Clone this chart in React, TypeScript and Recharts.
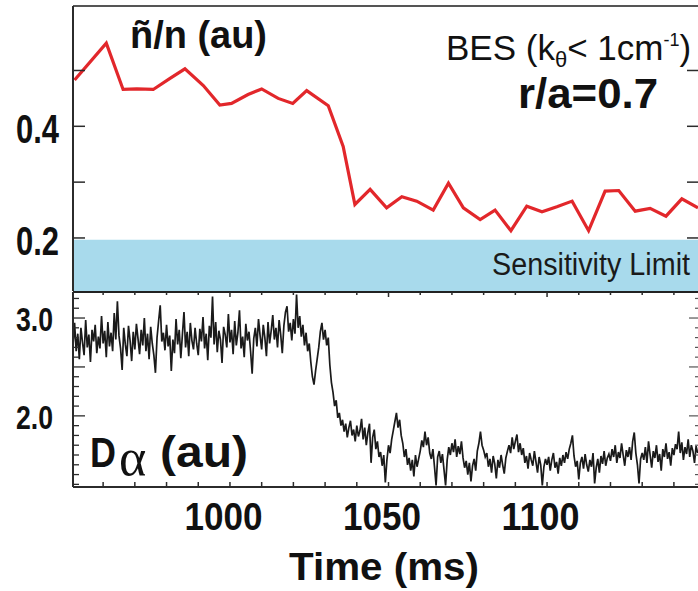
import { LineChart, Line, XAxis, YAxis, ReferenceArea, ReferenceLine } from "recharts";

// BES density fluctuation level, ñ/n (au), sampled ~every 5 ms
const NTILDE_T = [
  951, 961, 966.3, 970.6, 975.8, 981.1, 985.8, 991.6, 996.8, 1000.5,
  1005.7, 1010, 1015.2, 1019.8, 1024.2, 1031, 1035.7, 1039.4, 1044.2, 1049.4,
  1054.2, 1058.9, 1064.1, 1068.9, 1073.6, 1078.9, 1083.6, 1088.6, 1093.6, 1098.4,
  1103.1, 1107.9, 1113.1, 1118.3, 1122.6, 1127.8, 1132.5, 1137.5, 1142.5, 1147.6,
];
const NTILDE = [
  0.483, 0.549, 0.466, 0.467, 0.466, 0.486, 0.503, 0.473, 0.438, 0.441,
  0.457, 0.467, 0.45, 0.441, 0.464, 0.437, 0.364, 0.26, 0.287, 0.254,
  0.274, 0.266, 0.25, 0.298, 0.254, 0.233, 0.25, 0.213, 0.257, 0.247,
  0.256, 0.266, 0.213, 0.284, 0.285, 0.248, 0.253, 0.239, 0.27, 0.254,
];

// D-alpha trace (au), one value every 0.5 ms starting at 950 ms
const DALPHA_T0 = 950;
const DALPHA_STEP = 0.5;
const DALPHA = [
  // 950
  2.8, 2.72, 2.95, 2.66, 2.84, 2.58, 2.9, 2.75, 2.62, 2.98, 2.7, 2.83, 2.55, 2.88, 2.76, 2.93, 2.64, 2.81, 2.69, 3.02,
  // 960
  2.74, 2.87, 2.6, 2.96, 2.71, 2.85, 2.66, 3.05, 2.78, 3.17, 2.82, 2.69, 2.47, 2.9, 2.73, 2.61, 2.92, 2.77, 2.56, 2.86,
  // 970
  2.68, 2.94, 2.79, 2.63, 2.88, 2.72, 3.0, 2.66, 2.84, 2.58, 2.91, 2.74, 2.62, 2.44, 2.8, 2.97, 3.13, 2.76, 2.85, 2.67,
  // 980
  2.93, 2.71, 2.82, 2.46, 2.78, 2.64, 2.99, 2.73, 2.88, 2.59, 2.83, 3.06, 2.7, 2.86, 2.61, 2.95, 2.77, 2.68, 2.9, 2.74,
  // 990
  2.62, 2.89, 2.76, 3.01, 2.69, 2.84, 2.57, 2.92, 2.8, 3.22, 2.73, 2.96, 2.65, 2.87, 2.78, 2.54, 2.91, 2.83, 2.7, 3.04,
  // 1000
  2.75, 2.88, 2.63, 2.97, 2.72, 2.85, 3.08, 2.69, 2.81, 2.6, 2.94, 2.77, 2.86, 2.66, 2.43, 2.79, 2.9, 2.71, 2.99, 2.82,
  // 1010
  2.68, 2.93, 2.8, 2.61, 2.96, 2.74, 2.87, 3.03, 2.78, 2.9, 2.7, 2.98, 2.83, 2.64, 2.92, 3.06, 3.12, 2.86, 2.95, 2.77,
  // 1020
  2.99, 2.84, 3.24, 2.9, 3.02, 2.81, 2.93, 2.72, 2.85, 2.66, 2.74, 2.55, 2.4, 2.32, 2.46, 2.58, 2.7, 2.86, 2.95, 2.78,
  // 1030
  2.88, 2.72, 2.8, 2.52, 2.34, 2.24, 2.1, 2.16, 1.98, 2.03, 1.9, 1.96, 1.84, 1.92, 1.78, 1.88, 1.95, 1.8, 1.86, 1.74,
  // 1040
  1.9, 1.79, 1.85, 1.97, 1.76, 1.88, 1.7, 1.83, 1.92, 1.52, 1.78, 1.86, 1.66, 1.74, 1.58, 1.63, 1.49, 1.6, 1.32, 1.55,
  // 1050
  1.7, 1.62, 1.76, 1.85, 1.94, 2.03, 1.88, 1.96, 1.8, 1.72, 1.58, 1.66, 1.5, 1.57, 1.44, 1.55, 1.38, 1.6, 1.48, 1.56,
  // 1060
  1.64, 1.75, 1.68, 1.84, 1.7, 1.78, 1.62, 1.56, 1.66, 1.48, 1.29, 1.58, 1.64, 1.52, 1.61, 1.45, 1.29, 1.55, 1.68, 1.6,
  // 1070
  1.72, 1.63, 1.76, 1.58, 1.69, 1.61, 1.74, 1.57, 1.47, 1.54, 1.4, 1.52, 1.33, 1.49, 1.56, 1.44, 1.64, 1.72, 1.84, 1.7,
  // 1080
  1.65, 1.58, 1.62, 1.48, 1.56, 1.42, 1.59, 1.51, 1.36, 1.55, 1.47, 1.6, 1.5, 1.41, 1.57, 1.64, 1.7, 1.62, 1.78, 1.66,
  // 1090
  1.74, 1.81, 1.63, 1.72, 1.6, 1.67, 1.52, 1.59, 1.46, 1.62, 1.55, 1.49, 1.64, 1.53, 1.42, 1.58, 1.5, 1.29, 1.48, 1.56,
  // 1100
  1.5, 1.58, 1.44, 1.55, 1.62, 1.47, 1.53, 1.41, 1.57, 1.49, 1.6, 1.52, 1.63, 1.56, 1.66, 1.72, 1.8, 1.59, 1.48, 1.54,
  // 1110
  1.35, 1.52, 1.58, 1.46, 1.61, 1.5, 1.43, 1.55, 1.48, 1.62, 1.31, 1.47, 1.56, 1.42, 1.59, 1.51, 1.64, 1.49, 1.57, 1.61,
  // 1120
  1.54, 1.66, 1.58, 1.7, 1.52, 1.63, 1.57, 1.72, 1.6, 1.49, 1.65, 1.58, 1.68, 1.55, 1.74, 1.83, 1.62, 1.5, 1.31, 1.56,
  // 1130
  1.62, 1.55, 1.68, 1.52, 1.74, 1.6, 1.47, 1.64, 1.57, 1.7, 1.53, 1.61, 1.44, 1.66, 1.58, 1.72, 1.56, 1.63, 1.49, 1.67,
  // 1140
  1.6, 1.71, 1.66, 1.84, 1.62, 1.73, 1.55, 1.68, 1.61, 1.76, 1.58, 1.7, 1.64, 1.52, 1.69, 1.62,
];

const X_DOMAIN = [950.5, 1147.6];
const X_TICKS = [960, 970, 980, 990, 1000, 1010, 1020, 1030, 1040, 1050, 1060, 1070, 1080, 1090, 1100, 1110, 1120, 1130, 1140];
const X_LABELS = [1000, 1050, 1100];

const TOP_DOMAIN = [0.105, 0.6155];
const TOP_TICKS = [0.2, 0.3, 0.4, 0.5];
const TOP_LABELS = [0.2, 0.4];
const SENSITIVITY_LIMIT = 0.197;

const BOT_DOMAIN = [1.273, 3.266];
const BOT_TICKS = [1.3, 1.4, 1.5, 1.6, 1.7, 1.8, 1.9, 2.0, 2.1, 2.2, 2.3, 2.4, 2.5, 2.6, 2.7, 2.8, 2.9, 3.0, 3.1, 3.2];
const BOT_MAJOR = [2.0, 2.5, 3.0];
const BOT_LABELS = [2.0, 3.0];

const W = 698;
const FONT = "'Liberation Sans', Arial, Helvetica, sans-serif";
const AXIS = "#2b2b2b";

const topData = NTILDE_T.map((t, i) => ({ t, v: NTILDE[i] }));
const botData = DALPHA.map((v, i) => ({ t: DALPHA_T0 + i * DALPHA_STEP, v }));

const near = (list: number[], v: number) => list.some((x) => Math.abs(x - v) < 1e-6);

function TopYTick(props: any) {
  const { x, y, payload } = props;
  const v = payload.value;
  return (
    <g>
      <line x1={x} x2={x + 12} y1={y} y2={y} stroke={AXIS} strokeWidth={1.5} />
      <line x1={W} x2={W - 11} y1={y} y2={y} stroke={AXIS} strokeWidth={1.5} />
      {near(TOP_LABELS, v) && (
        <text x={59} y={y + 17} textAnchor="end" fontFamily={FONT} fontWeight="bold" fontSize={40}
          fill="#111" textLength={43} lengthAdjust="spacingAndGlyphs">
          {v.toFixed(1)}
        </text>
      )}
    </g>
  );
}

function BotYTick(props: any) {
  const { x, y, payload } = props;
  const v = payload.value;
  const major = near(BOT_MAJOR, v);
  return (
    <g>
      <line x1={x} x2={x + (major ? 12 : 6)} y1={y} y2={y} stroke={AXIS} strokeWidth={1.3} />
      <line x1={W} x2={W - (major ? 9 : 3)} y1={y} y2={y} stroke="#555" strokeWidth={1.2} />
      {near(BOT_LABELS, v) && (
        <text x={53} y={y + 13} textAnchor="end" fontFamily={FONT} fontWeight="bold" fontSize={34}
          fill="#111" textLength={37} lengthAdjust="spacingAndGlyphs">
          {v.toFixed(1)}
        </text>
      )}
    </g>
  );
}

function BotXTick(props: any) {
  const { x, y, payload } = props;
  const v = payload.value;
  const labelled = X_LABELS.includes(v);
  return (
    <g>
      <line x1={x} x2={x} y1={y} y2={y - 5} stroke={AXIS} strokeWidth={1.5} />
      <line x1={x} x2={x} y1={1} y2={labelled ? 6 : 4} stroke={AXIS} strokeWidth={1.5} />
      {labelled && (
        <text x={x - 6.5} y={y + 43} textAnchor="middle" fontFamily={FONT} fontWeight="bold" fontSize={38}
          fill="#111" textLength={78} lengthAdjust="spacingAndGlyphs">
          {v}
        </text>
      )}
    </g>
  );
}

function SensitivityLabel(props: any) {
  const vb = props.viewBox || {};
  return (
    <text x={vb.x + vb.width - 8} y={vb.y + vb.height - 16} textAnchor="end" fontFamily={FONT} fontSize={31}
      fill="#1a1a1a" textLength={198} lengthAdjust="spacingAndGlyphs">
      Sensitivity Limit
    </text>
  );
}

export default function App() {
  return (
    <div style={{ position: "absolute", left: 0, top: 0, width: W, height: 591, background: "#fff" }}>
      <div style={{ position: "absolute", left: 0, top: 0 }}>
        <LineChart width={W} height={292} data={topData} margin={{ top: 6, right: 0, bottom: 1, left: 0 }}>
          <XAxis type="number" dataKey="t" domain={X_DOMAIN} allowDataOverflow hide />
          <YAxis
            type="number"
            domain={TOP_DOMAIN}
            ticks={TOP_TICKS}
            interval={0}
            width={73}
            tickSize={0}
            tickMargin={0}
            tickLine={false}
            axisLine={{ stroke: AXIS, strokeWidth: 2 }}
            tick={TopYTick}
            allowDataOverflow
          />
          <ReferenceArea
            y1={TOP_DOMAIN[0]}
            y2={SENSITIVITY_LIMIT}
            fill="#a8daec"
            fillOpacity={1}
            stroke="none"
            label={SensitivityLabel}
          />
          <ReferenceLine y={TOP_DOMAIN[1]} stroke="#555" strokeWidth={2} />
          <Line type="linear" dataKey="v" stroke="#e2272b" strokeWidth={3.2} dot={false} isAnimationActive={false} />
          <text x={130} y={48} fontFamily={FONT} fontWeight="bold" fontSize={38} fill="#111"
            textLength={137} lengthAdjust="spacingAndGlyphs">
            ñ/n (au)
          </text>
          <text x={446} y={60} fontFamily={FONT} fontSize={35} fill="#111">
            {"BES (k"}
            <tspan fontSize={22} dy={7}>θ</tspan>
            <tspan dy={-7}>{"< 1cm"}</tspan>
            <tspan fontSize={18} dy={-14}>-1</tspan>
            <tspan dy={14}>)</tspan>
          </text>
          <text x={518} y={108} fontFamily={FONT} fontWeight="bold" fontSize={43} fill="#111"
            textLength={140} lengthAdjust="spacingAndGlyphs">
            r/a=0.7
          </text>
        </LineChart>
      </div>
      <div style={{ position: "absolute", left: 0, top: 291 }}>
        <LineChart width={W} height={300} data={botData} margin={{ top: 1, right: 0, bottom: 0, left: 0 }}>
          <XAxis
            type="number"
            dataKey="t"
            domain={X_DOMAIN}
            allowDataOverflow
            ticks={X_TICKS}
            interval={0}
            height={104}
            tickSize={0}
            tickMargin={0}
            tickLine={false}
            axisLine={{ stroke: AXIS, strokeWidth: 2 }}
            tick={BotXTick}
          />
          <YAxis
            type="number"
            domain={BOT_DOMAIN}
            ticks={BOT_TICKS}
            interval={0}
            width={73}
            tickSize={0}
            tickMargin={0}
            tickLine={false}
            axisLine={{ stroke: AXIS, strokeWidth: 2 }}
            tick={BotYTick}
            allowDataOverflow
          />
          <ReferenceLine y={BOT_DOMAIN[1]} stroke="#222" strokeWidth={2} />
          <Line type="linear" dataKey="v" stroke="#1a1a1a" strokeWidth={1.7} dot={false} isAnimationActive={false} />
          <text x={90} y={176} fontFamily={FONT} fontWeight="bold" fontSize={42} fill="#111"
            textLength={26} lengthAdjust="spacingAndGlyphs">
            D
          </text>
          <text x={119} y={184} fontFamily="'Liberation Serif', 'Times New Roman', serif" fontSize={52} fill="#111">α</text>
          <text x={160} y={176} fontFamily={FONT} fontWeight="bold" fontSize={44} fill="#111"
            textLength={88} lengthAdjust="spacingAndGlyphs">
            (au)
          </text>
          <text x={384} y={289} textAnchor="middle" fontFamily={FONT} fontWeight="bold" fontSize={38} fill="#111"
            textLength={190} lengthAdjust="spacingAndGlyphs">
            Time (ms)
          </text>
        </LineChart>
      </div>
    </div>
  );
}
